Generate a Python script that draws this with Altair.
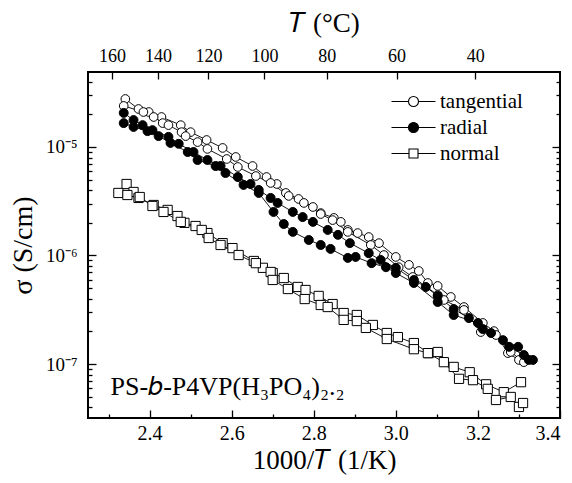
import altair as alt
import pandas as pd

SERIES = ["tangential", "radial", "normal"]

# tangential, two runs
tan_a_x = [2.341, 2.373, 2.398, 2.429, 2.476, 2.500, 2.539, 2.578, 2.610, 2.651, 2.685,
           2.710, 2.732, 2.763, 2.798, 2.817, 2.849, 2.866, 2.883, 2.907, 2.934, 2.959,
           3.000, 3.032, 3.056, 3.078, 3.102, 3.134, 3.166, 3.212, 3.239, 3.273, 3.300]
tan_a_y = [2.77e-5, 2.24e-5, 2.10e-5, 1.89e-5, 1.59e-5, 1.37e-5, 1.16e-5, 9.8e-6, 8.09e-6,
           6.68e-6, 5.29e-6, 4.56e-6, 3.77e-6, 3.32e-6, 2.80e-6, 2.46e-6, 2.22e-6, 2.04e-6,
           1.72e-6, 1.61e-6, 1.48e-6, 1.30e-6, 9.7e-7, 8.2e-7, 7.2e-7, 5.58e-7, 5.24e-7,
           4.15e-7, 3.35e-7, 2.39e-7, 2.01e-7, 1.26e-7, 1.09e-7]
tan_b_x = [2.337, 2.385, 2.410, 2.432, 2.446, 2.478, 2.488, 2.517, 2.541, 2.588, 2.615,
           2.659, 2.695, 2.739, 2.776, 2.817, 2.846, 2.883, 2.939, 2.971, 3.007, 3.041,
           3.102, 3.117, 3.166, 3.207, 3.244, 3.280, 3.312]
tan_b_y = [2.39e-5, 2.10e-5, 1.89e-5, 1.66e-5, 1.59e-5, 1.37e-5, 1.26e-5, 1.11e-5, 9.6e-6,
           7.75e-6, 6.54e-6, 5.40e-6, 4.66e-6, 3.54e-6, 3.05e-6, 2.41e-6, 2.12e-6, 1.65e-6,
           1.25e-6, 1.01e-6, 7.8e-7, 6.34e-7, 4.33e-7, 3.89e-7, 3.15e-7, 1.97e-7, 1.85e-7,
           1.29e-7, 1.04e-7]

# radial, two runs
rad_a_x = [2.337, 2.361, 2.383, 2.407, 2.446, 2.471, 2.507, 2.541, 2.573, 2.615, 2.646,
           2.666, 2.695, 2.712, 2.749, 2.773, 2.798, 2.834, 2.859, 2.888, 2.934, 2.963,
           3.000, 3.044, 3.073, 3.102, 3.141, 3.178, 3.212, 3.261, 3.298, 3.324]
rad_a_y = [2.06e-5, 1.77e-5, 1.59e-5, 1.43e-5, 1.24e-5, 1.07e-5, 8.99e-6, 7.59e-6, 6.68e-6,
           5.29e-6, 4.56e-6, 4.02e-6, 3.39e-6, 3.05e-6, 2.52e-6, 2.26e-6, 2.04e-6, 1.72e-6,
           1.55e-6, 1.30e-6, 1.05e-6, 9.1e-7, 7.7e-7, 5.95e-7, 5.13e-7, 4.24e-7, 3.21e-7,
           2.65e-7, 2.10e-7, 1.66e-7, 1.44e-7, 1.09e-7]
rad_b_x = [2.337, 2.361, 2.395, 2.422, 2.451, 2.493, 2.517, 2.561, 2.585, 2.629, 2.666,
           2.702, 2.727, 2.749, 2.788, 2.817, 2.841, 2.883, 2.902, 2.941, 2.976, 3.000,
           3.044, 3.102, 3.141, 3.200, 3.232, 3.276, 3.312, 3.334]
rad_b_y = [1.66e-5, 1.53e-5, 1.40e-5, 1.26e-5, 1.09e-5, 8.99e-6, 7.59e-6, 6.68e-6, 5.76e-6,
           4.47e-6, 3.77e-6, 2.52e-6, 1.95e-6, 1.65e-6, 1.39e-6, 1.25e-6, 1.15e-6, 9.5e-7,
           9.7e-7, 8.5e-7, 7.8e-7, 6.9e-7, 5.58e-7, 3.73e-7, 2.83e-7, 2.39e-7, 1.93e-7,
           1.44e-7, 1.21e-7, 1.09e-7]

# normal, two runs
norm_a_x = [2.344, 2.361, 2.373, 2.410, 2.444, 2.468, 2.485, 2.512, 2.541, 2.578, 2.602,
            2.654, 2.676, 2.700, 2.727, 2.761, 2.780, 2.812, 2.846, 2.873, 2.905, 2.944,
            2.978, 3.005, 3.044, 3.080, 3.102, 3.141, 3.180, 3.220, 3.263, 3.305]
norm_a_y = [4.56e-6, 3.85e-6, 3.39e-6, 2.92e-6, 2.63e-6, 2.31e-6, 2.00e-6, 1.87e-6, 1.61e-6,
            1.30e-6, 1.17e-6, 8.9e-7, 7.7e-7, 6.9e-7, 6.2e-7, 5.13e-7, 4.81e-7, 4.24e-7,
            3.57e-7, 2.95e-7, 2.83e-7, 2.29e-7, 1.93e-7, 1.77e-7, 1.56e-7, 1.26e-7, 1.29e-7,
            9.4e-8, 8.4e-8, 6.5e-8, 5.5e-8, 6.8e-8]
norm_b_x = [2.324, 2.346, 2.376, 2.407, 2.434, 2.476, 2.527, 2.544, 2.573, 2.617, 2.659,
            2.695, 2.700, 2.737, 2.778, 2.817, 2.834, 2.873, 2.905, 2.927, 2.978, 3.044,
            3.078, 3.117, 3.154, 3.188, 3.224, 3.244, 3.280, 3.300, 3.310]
norm_b_y = [3.77e-6, 3.61e-6, 3.46e-6, 2.86e-6, 2.52e-6, 2.04e-6, 1.72e-6, 1.45e-6, 1.25e-6,
            1.01e-6, 8.5e-7, 7.05e-7, 5.95e-7, 4.91e-7, 3.97e-7, 3.50e-7, 3.35e-7, 2.55e-7,
            2.49e-7, 2.15e-7, 1.70e-7, 1.37e-7, 1.26e-7, 1.04e-7, 7.3e-8, 7.1e-8, 5.9e-8,
            4.66e-8, 4.97e-8, 4.02e-8, 4.37e-8]

X_MAJOR = [2.4, 2.6, 2.8, 3.0, 3.2, 3.4]
X_MINOR = [2.3, 2.5, 2.7, 2.9, 3.1, 3.3]
Y_MAJOR = [1e-7, 1e-6, 1e-5]
Y_MINOR = [4e-8, 5e-8, 6e-8, 7e-8, 8e-8, 9e-8,
           2e-7, 3e-7, 4e-7, 5e-7, 6e-7, 7e-7, 8e-7, 9e-7,
           2e-6, 3e-6, 4e-6, 5e-6, 6e-6, 7e-6, 8e-6, 9e-6,
           2e-5, 3e-5, 4e-5]
T_TICKS = [160, 140, 120, 100, 80, 60, 40]
T_POS = [1000.0 / (t + 273.15) for t in T_TICKS]

ANNOT = ["PS-𝑏-P4VP(H₃PO₄)₂.₂"]
ANNOT_X = [2.305]
ANNOT_Y = [5.2e-8]

rows = []
for series, run, xs, ys in [
    ("tangential", "tan_a", tan_a_x, tan_a_y),
    ("tangential", "tan_b", tan_b_x, tan_b_y),
    ("radial", "rad_a", rad_a_x, rad_a_y),
    ("radial", "rad_b", rad_b_x, rad_b_y),
    ("normal", "norm_a", norm_a_x, norm_a_y),
    ("normal", "norm_b", norm_b_x, norm_b_y),
]:
    for xv, yv in zip(xs, ys):
        rows.append({"x": xv, "sigma": yv, "series": series, "run": run})
df = pd.DataFrame(rows)
ann = pd.DataFrame({"x": ANNOT_X, "sigma": ANNOT_Y, "label": ANNOT})

FONT = "Liberation Serif"
xscale = alt.Scale(domain=[2.25, 3.4], nice=False, zero=False)
yscale = alt.Scale(type="log", domain=[3.18e-8, 4.91e-5], nice=False)


def ax(**kw):
    base = dict(domain=False, grid=False, tickColor="black", tickWidth=1.3,
                labelColor="black", labelFont=FONT, titleFont=FONT,
                titleColor="black", titleFontWeight="normal")
    base.update(kw)
    return alt.Axis(**base)


y_label_expr = ("datum.value > 5e-6 ? '10⁻⁵' : datum.value > 5e-7 ? '10⁻⁶' : '10⁻⁷'")

lines = alt.Chart(df).mark_line(color="black", strokeWidth=0.9).encode(
    x=alt.X("x:Q", scale=xscale, title="1000/𝑇 (1/K)",
            axis=ax(orient="bottom", values=X_MAJOR, format=".1f", tickSize=8, offset=-8,
                    labelPadding=5, labelFontSize=20, titleFontSize=27, titlePadding=4)),
    y=alt.Y("sigma:Q", scale=yscale, title="σ (S/cm)",
            axis=ax(orient="left", values=Y_MAJOR, labelExpr=y_label_expr, tickSize=8,
                    offset=-8, labelPadding=11, labelFontSize=19, titleFontSize=28,
                    titlePadding=8)),
    detail="run:N",
)

points = alt.Chart(df).mark_point(filled=True, stroke="black", strokeWidth=1, opacity=1).encode(
    x=alt.X("x:Q", scale=xscale, title=None,
            axis=ax(orient="bottom", values=X_MINOR, labels=False, tickSize=4, offset=-4)),
    y=alt.Y("sigma:Q", scale=yscale, title=None,
            axis=ax(orient="left", values=Y_MINOR, labels=False, tickSize=4, offset=-4)),
    shape=alt.Shape("series:N", scale=alt.Scale(domain=SERIES, range=["circle", "circle", "square"]),
                    legend=None),
    fill=alt.Fill("series:N", scale=alt.Scale(domain=SERIES, range=["white", "black", "white"]),
                  legend=None),
    size=alt.Size("series:N", scale=alt.Scale(domain=SERIES, range=[75, 85, 68]), legend=None),
)

text = alt.Chart(ann).mark_text(align="left", baseline="alphabetic", font=FONT, fontSize=26,
                                color="black").encode(
    x=alt.X("x:Q", scale=xscale, title="𝑇 (°C)",
            axis=ax(orient="top", values=T_POS, labelExpr="'' + round(1000 / datum.value - 273.15)",
                    tickSize=7, offset=-7, labelPadding=7, labelFontSize=18,
                    titleFontSize=27, titlePadding=10)),
    y=alt.Y("sigma:Q", scale=yscale, title=None,
            axis=ax(orient="right", values=Y_MAJOR, labels=False, tickSize=8, offset=-8)),
    text="label:N",
)

CIRC = "M-4.4,0L-1,0M1,0L4.4,0M-1,0A1,1,0,1,1,1,0A1,1,0,1,1,-1,0Z"
SQR = "M-4.4,0L-0.9,0M0.9,0L4.4,0M-0.9,-0.9L0.9,-0.9L0.9,0.9L-0.9,0.9Z"
leg = alt.Legend(title=None, orient="none", legendX=315, legendY=19, labelFont=FONT,
                 labelFontSize=21, labelColor="black", labelOffset=16, symbolSize=100,
                 symbolStrokeColor="black", symbolStrokeWidth=1.1, rowPadding=4, padding=0)

legend_layer = alt.Chart(df).transform_filter("false").mark_point(
    filled=True, stroke="black", strokeWidth=1.1, opacity=1, size=100).encode(
    x=alt.X("x:Q", scale=xscale, axis=None),
    y=alt.Y("sigma:Q", scale=yscale, title=None,
            axis=ax(orient="right", values=Y_MINOR, labels=False, tickSize=4, offset=-4)),
    shape=alt.Shape("series:N", scale=alt.Scale(domain=SERIES, range=[CIRC, CIRC, SQR]), legend=leg),
    fill=alt.Fill("series:N", scale=alt.Scale(domain=SERIES, range=["white", "black", "white"]),
                  legend=leg),
    stroke=alt.Stroke("series:N", scale=alt.Scale(domain=SERIES, range=["black", "black", "black"]),
                      legend=leg),
)

chart = alt.layer(lines, points, text, legend_layer).resolve_scale(
    shape="independent", fill="independent", size="independent", stroke="independent"
).resolve_axis(x="independent", y="independent").properties(
    width=472, height=346,
    padding={"left": 88, "top": 72, "right": 12, "bottom": 65},
    autosize=alt.AutoSizeParams(type="none"),
).configure(background="white", font=FONT).configure_view(
    stroke="black", strokeWidth=2
).configure_axis(labelFont=FONT, titleFont=FONT).configure_legend(labelFont=FONT)

chart.save("out.html", embed_options={"renderer": "svg", "actions": False})
